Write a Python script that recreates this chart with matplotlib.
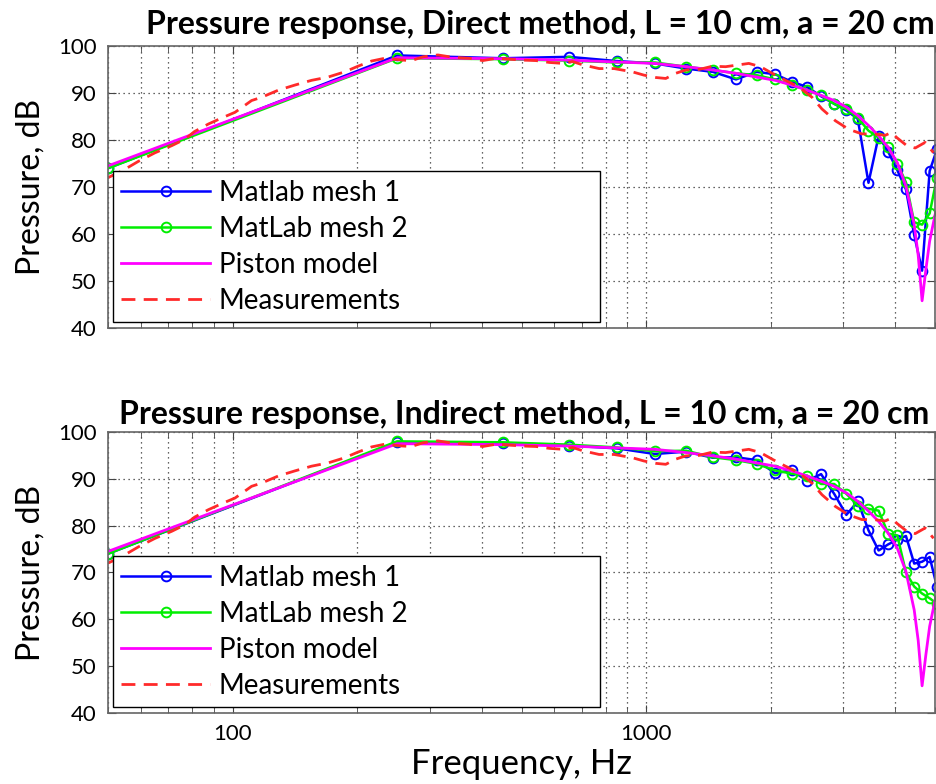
import numpy as np
import matplotlib
matplotlib.use('Agg')
import matplotlib.pyplot as plt
from matplotlib.ticker import LogLocator, NullFormatter, FixedLocator, FixedFormatter

plt.rcParams['font.family'] = ['Lato', 'DejaVu Sans']

# Frequencies of the simulated points (Hz)
freq_mesh = [50, 250, 450, 650, 850, 1050, 1250, 1450, 1650, 1850, 2050, 2250, 2450,
             2650, 2850, 3050, 3250, 3450, 3650, 3850, 4050, 4250, 4450, 4650, 4850, 5050]

# Direct method
direct_mesh1 = [74.0, 98.0, 97.4, 97.7, 96.8, 96.3, 95.2, 94.5, 92.9, 94.5, 94.0, 92.4, 91.3,
                89.3, 87.7, 86.3, 84.5, 70.9, 80.8, 77.5, 73.6, 69.5, 59.8, 52.2, 73.4, 78.0]
direct_mesh2 = [74.0, 97.4, 97.2, 96.9, 96.5, 96.5, 95.6, 94.9, 94.2, 93.8, 92.9, 91.7, 90.7,
                89.5, 87.7, 86.6, 84.7, 82.0, 80.5, 78.5, 75.0, 71.0, 62.5, 62.0, 64.4, 72.0]

# Indirect method
indirect_mesh1 = [74.0, 97.8, 97.6, 97.1, 96.5, 95.3, 95.8, 94.5, 94.6, 94.0, 91.2, 91.8, 89.6,
                  91.0, 86.8, 82.3, 85.2, 79.0, 74.7, 76.0, 77.0, 77.8, 71.9, 72.3, 73.3, 67.0]
indirect_mesh2 = [74.0, 98.0, 97.8, 97.3, 96.7, 95.9, 96.0, 94.6, 94.0, 93.2, 91.8, 91.1, 90.7,
                  88.9, 88.9, 86.8, 84.3, 83.6, 83.2, 78.3, 77.9, 70.0, 67.0, 65.5, 64.5, 63.3]

# Piston model
freq_piston = [50, 250, 450, 650, 850, 1050, 1250, 1450, 1650, 1850, 2050, 2250, 2450, 2650,
               2850, 3050, 3250, 3450, 3650, 3850, 4050, 4250, 4450, 4550, 4650, 4750, 4850, 5050]
piston = [74.5, 97.5, 97.3, 97.0, 96.6, 96.3, 95.6, 94.9, 94.2, 93.4, 92.7, 91.7, 90.6, 89.5,
          88.4, 87.0, 85.2, 83.1, 80.9, 78.4, 75.2, 70.2, 62.0, 55.5, 45.8, 52.5, 58.5, 66.0]

# Measurements
freq_meas = [50, 54, 59.3, 65, 71.3, 76.8, 80.9, 87.4, 94.2, 101.4, 107.2, 111.2, 117.6, 129,
             141.6, 155.3, 170.3, 186.8, 201, 216.7, 233.5, 258, 271, 288.6, 313.7, 341, 373,
             402.7, 435, 467, 503, 542, 584, 629, 664, 702, 770, 837, 927, 989, 1056, 1116,
             1180, 1247, 1342, 1446, 1557, 1677, 1772, 1891, 2017, 2173, 2340, 2519, 2663,
             2869, 3088, 3325, 3548, 3786, 3920, 4040, 4271, 4475, 4731, 4955]
meas = [72.0, 73.4, 75.5, 77.3, 78.8, 80.2, 81.8, 83.4, 84.7, 85.9, 87.4, 88.4, 89.1, 90.6,
        91.7, 92.7, 93.4, 94.5, 95.7, 96.8, 97.4, 97.0, 96.9, 97.7, 98.1, 97.6, 97.4,
        96.9, 97.4, 97.2, 97.0, 96.9, 96.5, 96.3, 96.7, 96.0, 95.2, 95.2, 94.5, 93.8, 93.3, 93.1,
        94.2, 94.9, 95.0, 95.7, 95.6, 96.0, 96.3, 95.6, 94.2, 92.7, 91.3, 89.1, 86.6,
        84.1, 82.3, 81.3, 81.3, 81.0, 81.6, 80.5, 78.8, 78.3, 79.5, 77.3]

titles = ['Pressure response, Direct method, L = 10 cm, a = 20 cm',
          'Pressure response, Indirect method, L = 10 cm, a = 20 cm']
labels = ['Matlab mesh 1', 'MatLab mesh 2', 'Piston model', 'Measurements']

fig = plt.figure(figsize=(9.37, 7.84), dpi=100)
ax_top = fig.add_axes([0.1153, 0.5816, 0.8827, 0.3597])
ax_bot = fig.add_axes([0.1153, 0.0906, 0.8827, 0.3584])


def draw_panel(ax, mesh1, mesh2, title, title_x, pad, show_xlabels):
    ax.plot(freq_mesh, mesh1, color='#0000ff', lw=1.8, marker='o', ms=7,
            mfc='none', mew=1.4, label=labels[0])
    ax.plot(freq_mesh, mesh2, color='#00ee00', lw=1.8, marker='o', ms=7,
            mfc='none', mew=1.4, label=labels[1])
    ax.plot(freq_piston, piston, color='#ff00ff', lw=2.0, label=labels[2])
    ax.plot(freq_meas, meas, color='#ff2a2a', lw=2.0, ls=(0, (5, 3)), label=labels[3])

    ax.set_xscale('log')
    ax.set_xlim(50, 5000)
    ax.set_ylim(40, 100)
    ax.set_yticks(np.arange(40, 101, 10))
    ax.xaxis.set_major_locator(FixedLocator([100, 1000]))
    ax.xaxis.set_minor_locator(LogLocator(base=10, subs=np.arange(2, 10)))
    ax.xaxis.set_minor_formatter(NullFormatter())
    if show_xlabels:
        ax.xaxis.set_major_formatter(FixedFormatter(['100', '1000']))
    else:
        ax.xaxis.set_major_formatter(NullFormatter())

    ax.grid(True, which='major', axis='both', color='#333333', ls=(0, (1, 3)), lw=0.9)
    ax.grid(True, which='minor', axis='x', color='#333333', ls=(0, (1, 3)), lw=0.9)
    ax.tick_params(which='both', direction='in', top=True, right=True,
                   labelsize=16, pad=8, color='#444444')
    ax.tick_params(which='major', length=6)
    ax.tick_params(which='minor', length=4)
    for s in ax.spines.values():
        s.set_color('#666666')
        s.set_linewidth(1.2)

    ax.set_ylabel('Pressure, dB', fontsize=23)
    ax.yaxis.set_label_coords(-0.076, 0.5)
    ax.set_title(title, fontsize=23, fontweight='bold', x=title_x, pad=pad)

    leg = ax.legend(loc='lower left', bbox_to_anchor=(0.006, 0.021, 0.589, 0.54),
                    mode='expand', borderaxespad=0, fontsize=20, handlelength=3.2,
                    handletextpad=0.3, numpoints=1, labelspacing=0.36, fancybox=False,
                    framealpha=1, edgecolor='black', borderpad=0.3)
    leg.get_frame().set_linewidth(1.0)


draw_panel(ax_top, direct_mesh1, direct_mesh2, titles[0], 0.523, 9, False)
draw_panel(ax_bot, indirect_mesh1, indirect_mesh2, titles[1], 0.503, 6, True)
ax_bot.set_xlabel('Frequency, Hz', fontsize=25, labelpad=3)

fig.savefig('out.png', dpi=100)
